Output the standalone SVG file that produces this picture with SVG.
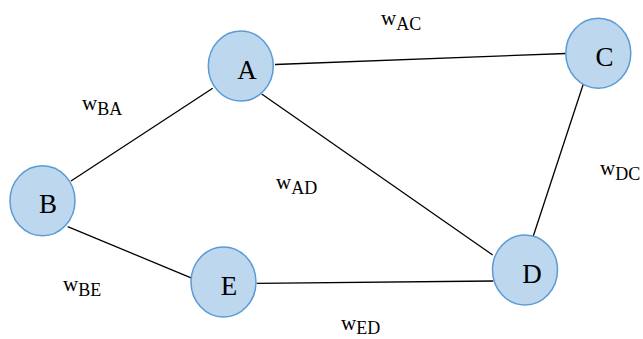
<svg xmlns="http://www.w3.org/2000/svg" width="643" height="339" viewBox="0 0 643 339">
<style>
.node{fill:#bdd7ee;stroke:#5b9bd5;stroke-width:1.5}
.lbl{font-family:"Liberation Serif","Times New Roman",serif;font-size:27px;fill:#000;text-anchor:middle}
.w{font-family:"Liberation Serif","Times New Roman",serif;font-size:21px;fill:#000}
.sub{font-size:18px}
.edge{stroke:#000;stroke-width:1.3;fill:none}
</style>
<defs>
<clipPath id="clipDC"><rect x="560" y="140" width="83" height="40.5"/></clipPath>
</defs>
<rect width="643" height="339" fill="#fff"/>
<g id="connectors">
<line class="edge" x1="275" y1="64.5" x2="566" y2="53.5"/>
<line class="edge" x1="71" y1="181" x2="212.7" y2="88.3"/>
<line class="edge" x1="261.7" y1="94" x2="492.7" y2="255"/>
<line class="edge" x1="584.3" y1="81" x2="533.3" y2="236"/>
<line class="edge" x1="256.7" y1="283.3" x2="493.3" y2="281"/>
<line class="edge" x1="67.7" y1="226.7" x2="192.3" y2="278.3"/>
</g>
<g id="weights">
<text class="w" x="381" y="25">w<tspan class="sub" dy="5">AC</tspan></text>
<text class="w" x="82" y="110">w<tspan class="sub" dy="5">BA</tspan></text>
<text class="w" x="276" y="189">w<tspan class="sub" dy="5">AD</tspan></text>
<text class="w" x="341" y="330">w<tspan class="sub" dy="4">ED</tspan></text>
<text class="w" x="63" y="291">w<tspan class="sub" dy="5">BE</tspan></text>
<text class="w" x="600" y="175" clip-path="url(#clipDC)">w<tspan class="sub" dy="5">DC</tspan></text>
</g>
<g id="node-A"><ellipse class="node" cx="240.8" cy="66" rx="32.5" ry="35"/><text class="lbl" x="247" y="79">A</text></g>
<g id="node-B"><ellipse class="node" cx="42.5" cy="200.7" rx="32.5" ry="35"/><text class="lbl" x="48" y="213.3">B</text></g>
<g id="node-C"><ellipse class="node" cx="598.3" cy="53.3" rx="32.5" ry="35"/><text class="lbl" x="604.5" y="66">C</text></g>
<g id="node-D"><ellipse class="node" cx="525" cy="270" rx="32.5" ry="35"/><text class="lbl" x="532" y="283.3">D</text></g>
<g id="node-E"><ellipse class="node" cx="223.5" cy="282" rx="32.5" ry="35"/><text class="lbl" x="229" y="295">E</text></g>
</svg>
